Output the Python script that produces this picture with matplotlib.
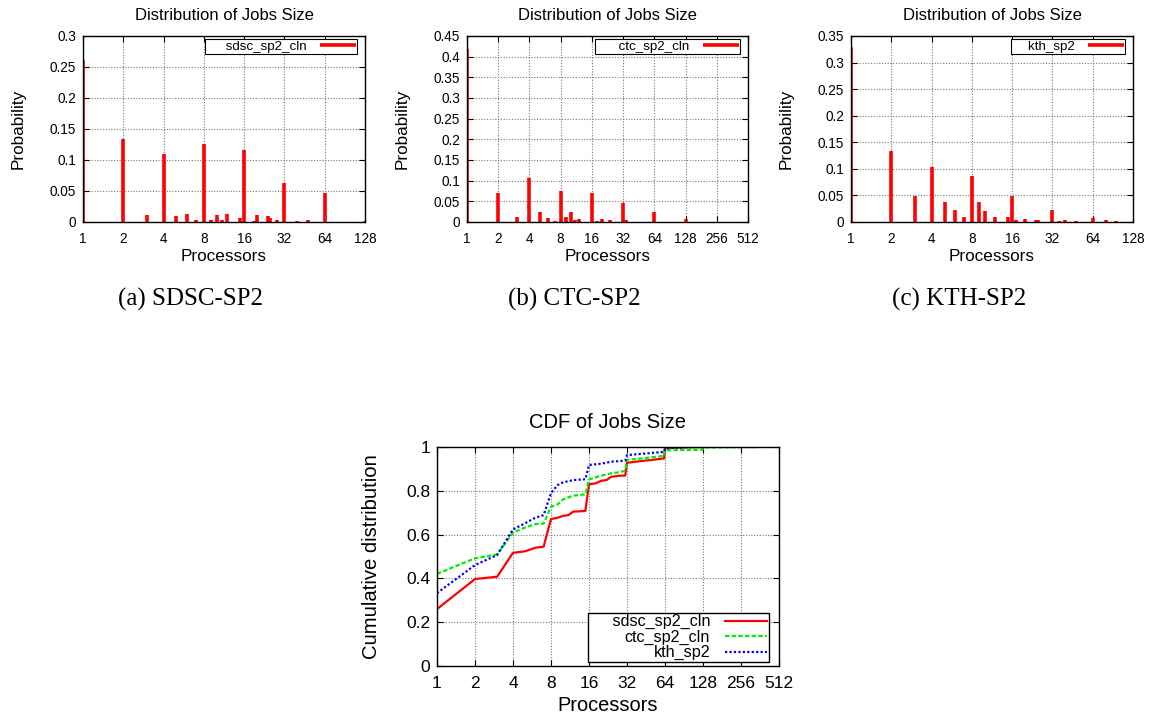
import matplotlib
matplotlib.use("Agg")
import matplotlib.pyplot as plt
from matplotlib.ticker import FixedLocator, FuncFormatter, NullLocator

plt.rcParams['font.family'] = ['Liberation Sans', 'DejaVu Sans']

# probability mass of job sizes (processors -> probability)
sdsc_x = [1, 2, 3, 4, 5, 6, 7, 8, 9, 10, 11, 12, 15, 16, 19, 20, 24, 25, 28,
          32, 40, 48, 64, 80, 96, 128]
sdsc_p = [0.261, 0.134, 0.012, 0.109, 0.009, 0.013, 0.004, 0.126, 0.004, 0.011,
          0.003, 0.013, 0.006, 0.116, 0.001, 0.012, 0.010, 0.006, 0.003,
          0.063, 0.001, 0.003, 0.046, 0.0005, 0.0005, 0.001]

ctc_x = [1, 2, 3, 4, 5, 6, 7, 8, 9, 10, 11, 12, 13, 14, 15, 16, 18, 20, 24, 28,
         32, 34, 40, 50, 64, 128, 256]
ctc_p = [0.419, 0.071, 0.012, 0.106, 0.023, 0.009, 0.0015, 0.076, 0.011, 0.023,
         0.004, 0.008, 0.001, 0.001, 0.001, 0.071, 0.003, 0.008, 0.005, 0.001,
         0.045, 0.005, 0.001, 0.001, 0.0235, 0.007, 0.0005]

kth_x = [1, 2, 3, 4, 5, 6, 7, 8, 9, 10, 12, 15, 16, 17, 20, 24, 25, 32, 36, 40,
         48, 64, 80, 96]
kth_p = [0.329, 0.134, 0.048, 0.103, 0.038, 0.023, 0.0095, 0.086, 0.038, 0.020,
         0.0095, 0.0095, 0.0486, 0.0045, 0.0057, 0.0045, 0.0045, 0.022, 0.002,
         0.004, 0.001, 0.008, 0.0045, 0.001]

# cumulative distributions
sdsc_cdf_x = [1, 2, 3, 4, 5, 6, 7, 8, 9, 10, 11, 12, 14, 15, 16, 18, 20, 22, 24,
              28, 31, 32, 40, 48, 63, 64, 128]
sdsc_cdf_y = [0.26, 0.397, 0.408, 0.517, 0.524, 0.540, 0.545, 0.671, 0.677,
              0.686, 0.689, 0.705, 0.707, 0.709, 0.830, 0.834, 0.846, 0.849,
              0.864, 0.869, 0.870, 0.928, 0.935, 0.940, 0.948, 0.996, 1.0]

ctc_cdf_x = [1, 2, 3, 4, 5, 6, 7, 8, 9, 10, 11, 12, 15, 16, 20, 24, 28, 31, 32,
             48, 63, 64, 127, 128, 336]
ctc_cdf_y = [0.421, 0.492, 0.510, 0.609, 0.633, 0.648, 0.651, 0.727, 0.738,
             0.761, 0.770, 0.778, 0.784, 0.852, 0.869, 0.880, 0.885, 0.892,
             0.941, 0.952, 0.960, 0.985, 0.988, 0.998, 1.0]

kth_cdf_x = [1, 2, 3, 4, 5, 6, 7, 8, 9, 10, 12, 15, 16, 20, 24, 31, 32, 48, 63,
             64, 100]
kth_cdf_y = [0.333, 0.461, 0.507, 0.624, 0.652, 0.677, 0.689, 0.789, 0.826,
             0.839, 0.849, 0.853, 0.918, 0.924, 0.933, 0.938, 0.963, 0.972,
             0.978, 0.994, 1.0]

pow2_7 = [1, 2, 4, 8, 16, 32, 64, 128]
pow2_9 = [1, 2, 4, 8, 16, 32, 64, 128, 256, 512]

W, H = 1152, 717


def style_axes(ax, xticks, yticks, ylim, tick_size, pad):
    ax.set_xscale('log', base=2)
    ax.set_xlim(xticks[0], xticks[-1])
    ax.set_ylim(*ylim)
    ax.xaxis.set_major_locator(FixedLocator(xticks))
    ax.xaxis.set_minor_locator(NullLocator())
    ax.xaxis.set_major_formatter(FuncFormatter(lambda v, pos: f"{int(round(v))}"))
    ax.set_yticks(yticks)
    ax.yaxis.set_major_formatter(FuncFormatter(lambda v, pos: f"{v:g}"))
    ax.tick_params(direction='in', top=True, right=True, length=4, width=0.8,
                   labelsize=tick_size)
    ax.tick_params(axis='x', pad=pad)
    ax.tick_params(axis='y', pad=5)
    ax.grid(True, color='#777777', linestyle=(0, (1, 1.5)), linewidth=0.8)
    for sp in ax.spines.values():
        sp.set_linewidth(1.0)


def pmf_panel(rect, xs, ps, label, lead, xticks, ymax, ystep, caption):
    ax = fig.add_axes(rect)
    nt = int(round(ymax / ystep))
    style_axes(ax, xticks, [i * ystep for i in range(nt + 1)], (0, ymax), 9.8, 7)
    # gnuplot keys leave room left of the text, so pad the label with spaces
    ax.vlines(xs, 0, ps, color='red', linewidth=2.6, label=' ' * lead + label)
    ax.set_title("Distribution of Jobs Size", fontsize=12, pad=11.5)
    ax.set_xlabel("Processors", fontsize=12.3, labelpad=2.5)
    ax.set_ylabel("Probability", fontsize=12.3, labelpad=17)
    x0, y0, w, h = rect
    leg = ax.legend(loc='upper right',
                    bbox_to_anchor=(1 - 8 / (w * W), 1 - 3 / (h * H)),
                    fontsize=9.6, markerfirst=False, fancybox=False,
                    framealpha=1, edgecolor='black', handlelength=2.7,
                    borderpad=0.1, borderaxespad=0, handletextpad=1.0)
    leg.get_frame().set_linewidth(0.8)
    fig.text(x0 + w / 2 - 33 / W, 1 - 299 / H, caption, ha='center',
             va='center', fontsize=18, family='Liberation Serif')
    return ax


fig = plt.figure(figsize=(11.52, 7.17), dpi=100)

pmf_panel([0.0720, 0.6904, 0.2448, 0.2594], sdsc_x, sdsc_p, 'sdsc_sp2_cln', 5,
          pow2_7, 0.3, 0.05, "(a) SDSC-SP2")
pmf_panel([0.4054, 0.6904, 0.2439, 0.2594], ctc_x, ctc_p, 'ctc_sp2_cln', 6,
          pow2_9, 0.45, 0.05, "(b) CTC-SP2")
pmf_panel([0.7387, 0.6904, 0.2448, 0.2594], kth_x, kth_p, 'kth_sp2', 4,
          pow2_7, 0.35, 0.05, "(c) KTH-SP2")

# CDF panel
rect = [0.3793, 0.0711, 0.2969, 0.3054]
ax = fig.add_axes(rect)
style_axes(ax, pow2_9, [0, 0.2, 0.4, 0.6, 0.8, 1.0], (0, 1), 12.5, 7)
ax.plot(sdsc_cdf_x, sdsc_cdf_y, color='red', linewidth=1.6,
        label='     sdsc_sp2_cln')
ax.plot(ctc_cdf_x, ctc_cdf_y, color='#00ee00', linewidth=1.6,
        linestyle=(0, (2, 1)), label='ctc_sp2_cln')
ax.plot(kth_cdf_x, kth_cdf_y, color='blue', linewidth=1.6,
        linestyle=(0, (1, 1)), label='kth_sp2')
ax.set_title("CDF of Jobs Size", fontsize=14.5, pad=14)
ax.set_xlabel("Processors", fontsize=14.4, labelpad=4)
ax.set_ylabel("Cumulative distribution", fontsize=14.6, labelpad=18)
leg = ax.legend(loc='lower right',
                bbox_to_anchor=(1 - 10 / (rect[2] * W), 4 / (rect[3] * H)),
                fontsize=11.6, markerfirst=False, fancybox=False,
                framealpha=1, edgecolor='black', handlelength=2.6,
                borderpad=0.1, borderaxespad=0, labelspacing=0.02,
                handletextpad=0.95)
leg.get_frame().set_linewidth(1.0)

fig.savefig("out.png", dpi=100)
